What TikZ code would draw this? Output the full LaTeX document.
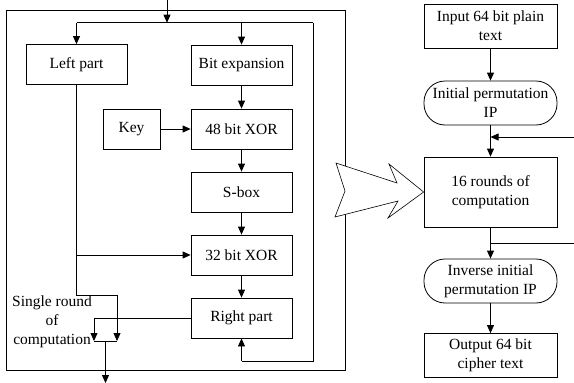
\documentclass[tikz,border=0pt]{standalone}
\usepackage{fontspec}
\setmainfont{Liberation Serif}
\usetikzlibrary{arrows.meta}
\begin{document}
\begin{tikzpicture}[x=1pt,y=-1pt,
  font=\fontsize{15.5pt}{19pt}\selectfont,
  every path/.style={line width=0.8pt},
  arr/.style={-{Triangle[length=8pt,width=7pt]}},
  blk/.style={draw, rectangle, minimum width=101pt, minimum height=40pt, inner sep=1pt, align=center},
  flow/.style={draw, rectangle, minimum width=133pt, minimum height=44pt, inner sep=1pt, align=center},
  term/.style={flow, rounded corners=21pt}]
\useasboundingbox (0,0) rectangle (574,383);

% frame of a single round
\draw (6,10) rectangle (345,370);

% blocks of one round
\node[blk] (left)   at (76.5,64.5) {Left part};
\node[blk] (bitexp) at (241.5,65)  {Bit expansion};
\node[blk, minimum width=57pt] (key) at (131.5,129) {Key};
\node[blk] (xor48)  at (241.5,129) {48 bit XOR};
\node[blk] (sbox)   at (241.5,192) {S-box};
\node[blk] (xor32)  at (241.5,255) {32 bit XOR};
\node[blk] (right)  at (241.5,318) {Right part};
\node[align=center, inner sep=0pt] (cap) at (52,322) {Single round\\of\\computation};

% split of the incoming block
\coordinate (in0) at (167,0);
\coordinate (in1) at (167,22.7);
\coordinate (sl) at (76.5,22.7);
\coordinate (sr) at (313,22.7);
\draw[arr] (in0) -- (in1);
\draw (sl) -- (sr);
\draw[arr] (sl) -- (left.north);
\draw[arr] (bitexp.north |- sl) -- (bitexp.north);

% f-function chain
\draw[arr] (bitexp) -- (xor48);
\draw[arr] (key) -- (xor48);
\draw[arr] (xor48) -- (sbox);
\draw[arr] (sbox) -- (xor32);
\draw[arr] (xor32) -- (right);

% left half feeds the XOR and the swap
\coordinate (lb) at (76.5,255);
\coordinate (m1) at (117,341);
\coordinate (m2) at (94,341);
\coordinate (mo) at (105.5,341);
\coordinate (out) at (105.5,383);
\draw (left.south) -- (76.5,295) -- (117,295);
\draw[arr] (117,295) -- (m1);
\draw[arr] (lb) -- (xor32.west);
\draw (right.west) -- (94,318);
\draw[arr] (94,318) -- (m2);
\draw (m2) -- (m1);
\draw[arr] (mo) -- (out);

% right half fed back from the top line
\draw (sr) -- (313,361) -- (241.5,361);
\draw[arr] (241.5,361) -- (right.south);

% overall flow
\node[flow] (input)  at (490.5,26)  {Input 64 bit plain\\text};
\node[term] (ip)     at (490.5,103) {Initial permutation\\IP};
\node[flow, minimum height=70pt] (rounds) at (490.5,192) {16 rounds of\\computation};
\node[term] (inv)    at (490.5,281) {Inverse initial\\permutation IP};
\node[flow] (output) at (490.5,355.5) {Output 64 bit\\cipher text};

\draw[arr] (input) -- (ip);
\draw[arr] (ip) -- (rounds);
\coordinate (fb0) at (574,137);
\coordinate (fb1) at (490.5,137);
\draw[arr] (fb0) -- (fb1);
\draw[arr] (rounds) -- (inv);
\coordinate (fo0) at (490.5,243);
\coordinate (fo1) at (574,243);
\draw (fo0) -- (fo1);
\draw[arr] (inv) -- (output);

% broad arrow from the round detail to the 16 rounds
\draw[fill=white, line width=0.6pt] (336,163) -- (397,183) -- (389,164) -- (rounds.west)
  -- (388,218) -- (398,201) -- (335,217) -- (345,191) -- cycle;
\end{tikzpicture}
\end{document}
